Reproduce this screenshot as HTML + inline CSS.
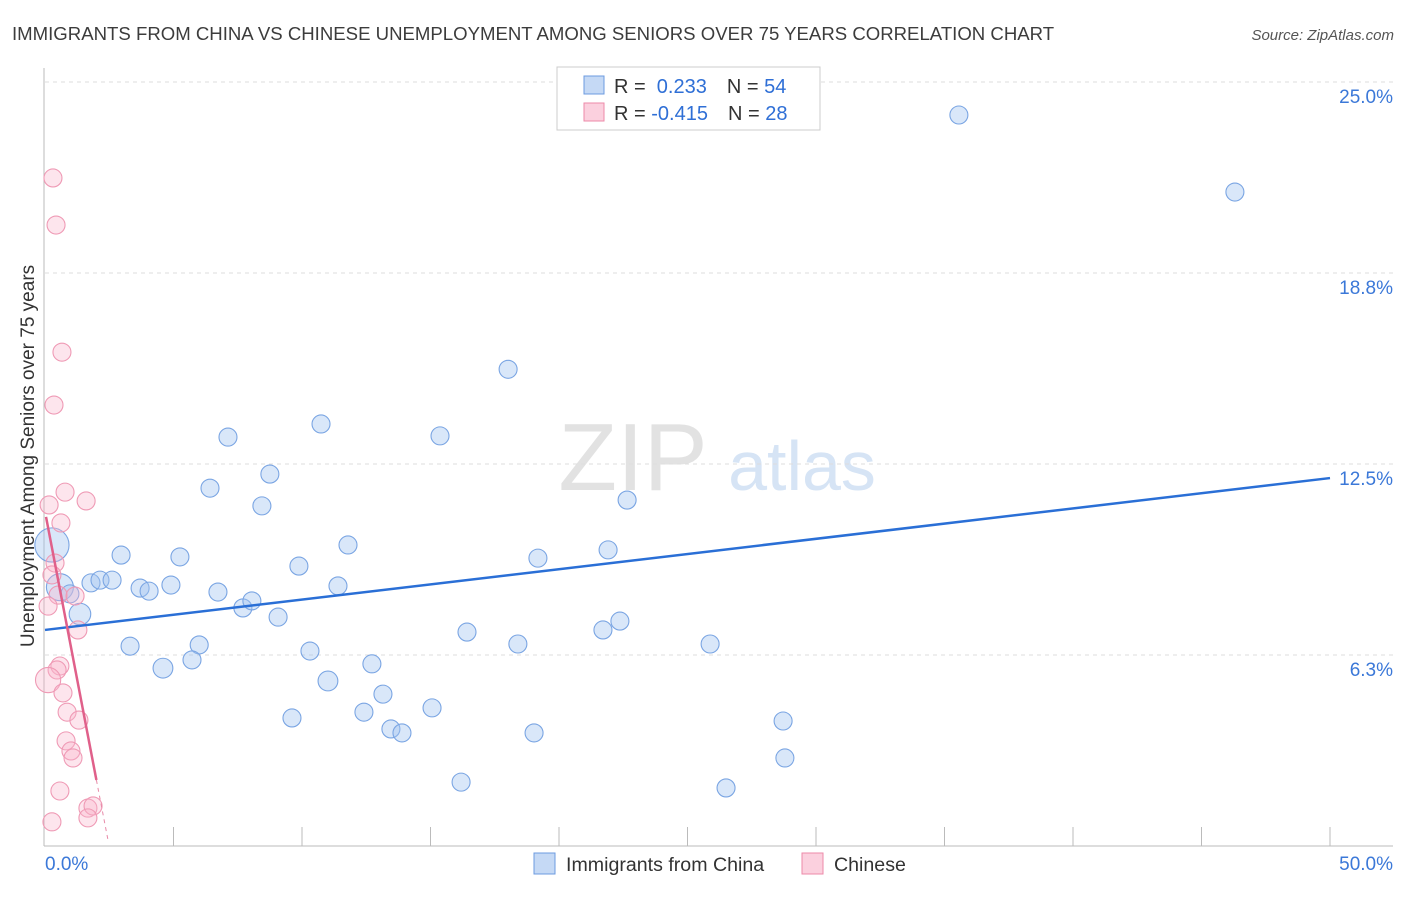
<!DOCTYPE html>
<html><head><meta charset="utf-8"><style>
body{margin:0;background:#fff;font-family:"Liberation Sans",sans-serif;}
svg text{font-family:"Liberation Sans",sans-serif;}
</style></head><body>
<svg id="chart" width="1406" height="892" xmlns="http://www.w3.org/2000/svg">
<text x="12" y="40" font-size="18.6" fill="#3c3c3c">IMMIGRANTS FROM CHINA VS CHINESE UNEMPLOYMENT AMONG SENIORS OVER 75 YEARS CORRELATION CHART</text>
<text x="1394" y="40" font-size="15" fill="#555" text-anchor="end" font-style="italic">Source: ZipAtlas.com</text>
<g>
<text x="633" y="490" font-size="96" fill="#e2e2e2" text-anchor="middle" font-family="Liberation Serif">ZIP</text>
<text x="802" y="490" font-size="70" fill="#d6e4f5" text-anchor="middle">atlas</text>
</g>
<g id="grid"></g>
<g id="axes"></g>
<g id="points"></g>
<g id="trends"></g>
<text transform="translate(34,456) rotate(-90)" font-size="19" fill="#333" text-anchor="middle">Unemployment Among Seniors over 75 years</text>
<g>
<rect x="557" y="67" width="263" height="63" fill="#fff" stroke="#ccc"/>
<rect x="584" y="76" width="20" height="18" fill="#c5d9f5" stroke="#6c9be0"/>
<rect x="584" y="103" width="20" height="18" fill="#fbd0de" stroke="#ec8aa8"/>
<text x="614" y="93" font-size="20" fill="#333">R = <tspan fill="#2f6fd6">&#160;0.233</tspan><tspan dx="20">N = </tspan><tspan fill="#2f6fd6">54</tspan></text>
<text x="614" y="120" font-size="20" fill="#333">R = <tspan fill="#2f6fd6">-0.415</tspan><tspan dx="20">N = </tspan><tspan fill="#2f6fd6">28</tspan></text>
</g>
<g>
<rect x="534" y="853" width="21" height="21" fill="#c5d9f5" stroke="#6c9be0"/>
<text x="566" y="871" font-size="19.6" fill="#333">Immigrants from China</text>
<rect x="802" y="853" width="21" height="21" fill="#fbd0de" stroke="#ec8aa8"/>
<text x="834" y="871" font-size="19.6" fill="#333">Chinese</text>
</g>
</svg>
<script>
const yTicks=[6.25,12.5,18.75,25];
const yTickLabels=["6.3%","12.5%","18.8%","25.0%"];
const xTickLabels=["0.0%","50.0%"];
const blueX=[35.56,46.30,18.02,7.12,10.74,15.37,6.42,8.75,8.44,22.65,0.27,2.96,5.25,11.79,19.18,21.91,9.88,0.58,1.79,2.14,2.61,3.70,4.05,4.90,6.73,11.40,0.97,1.36,7.70,8.05,9.07,3.31,6.0,16.42,18.40,21.71,22.37,25.88,4.59,5.72,10.31,12.72,11.01,13.15,9.61,12.41,15.06,13.46,13.89,19.03,16.19,26.50,28.72,28.79];
const blueY=[23.92,21.40,15.60,13.38,13.81,13.42,11.71,12.17,11.13,11.32,9.85,9.52,9.46,9.85,9.42,9.69,9.16,8.47,8.61,8.70,8.70,8.44,8.34,8.54,8.31,8.51,8.25,7.59,7.79,8.02,7.49,6.54,6.58,7.00,6.61,7.07,7.36,6.61,5.82,6.09,6.38,5.96,5.40,4.97,4.19,4.38,4.52,3.83,3.70,3.70,2.09,1.90,4.09,2.88];
const blueSize=[1,1,1,1,1,1,1,1,1,1,1.9,1,1,1,1,1,1,1.5,1,1,1,1,1,1,1,1,1,1.2,1,1,1,1,1,1,1,1,1,1,1.1,1,1,1,1.1,1,1,1,1,1,1,1,1,1,1,1];
const pinkX=[0.31,0.43,0.66,0.35,0.78,1.60,0.16,0.62,0.39,0.27,0.51,1.17,0.12,1.28,0.58,0.47,0.12,0.70,0.86,1.32,0.82,1.01,1.09,0.58,1.67,1.87,1.67,0.27];
const pinkY=[21.86,20.32,16.16,14.43,11.58,11.29,11.16,10.57,9.26,8.87,8.21,8.18,7.85,7.07,5.89,5.76,5.43,5.01,4.38,4.12,3.44,3.11,2.88,1.80,1.24,1.31,0.92,0.79];
const pinkSize=[1,1,1,1,1,1,1,1,1,1,1,1,1,1,1,1,1.4,1,1,1,1,1,1,1,1,1,1,1];
const blueTrend=[[0,7.07],[50,12.04]];
const pinkTrend=[[0.04,10.77],[2.0,2.16]];
const pinkTrendExt=[[2.0,2.16],[2.45,0.2]];
const NS="http://www.w3.org/2000/svg";
const X0=45,X1=1330,Y0=846,PY=191/6.25;
function sx(v){return X0+(X1-X0)*v/50;}
function sy(v){return Y0-v*PY;}
function mk(tag,attrs,parent){const e=document.createElementNS(NS,tag);for(const k in attrs)e.setAttribute(k,attrs[k]);document.getElementById(parent).appendChild(e);return e;}
yTicks.forEach((t,i)=>{
 const l=mk('line',{x1:X0,x2:1393,y1:sy(t),y2:sy(t),stroke:'#ddd','stroke-dasharray':'4,4'},'grid');
 
 
 const tx=mk('text',{x:1393,y:sy(t)+21,'font-size':19,fill:'#3b78d8','text-anchor':'end'},'grid');
 tx.textContent=yTickLabels[i];
 
 
});
const ya=mk('line',{x1:X0-1,x2:X0-1,y1:68,y2:846,stroke:'#bbb'},'axes');


const xa=mk('line',{x1:X0-1,x2:1393,y1:846,y2:846,stroke:'#bbb'},'axes');


for(let i=1;i<=10;i++){
 const t=mk('line',{x1:sx(i*5),x2:sx(i*5),y1:827,y2:846,stroke:'#bbb'},'axes');
 
 
}
[[0,'start',45],[50,'end',1393]].forEach((d,i)=>{
 const t=mk('text',{x:d[2],y:870,'font-size':19,fill:'#3b78d8','text-anchor':d[1]},'axes');
 t.textContent=xTickLabels[i];
 
 
});
blueX.forEach((v,i)=>{
 const c=mk('circle',{cx:sx(v),cy:sy(blueY[i]),r:9*blueSize[i],fill:'rgba(160,196,240,0.4)',stroke:'#7aa5e3','stroke-width':1.1},'points');
 
 
});
pinkX.forEach((v,i)=>{
 const c=mk('circle',{cx:sx(v),cy:sy(pinkY[i]),r:9*pinkSize[i],fill:'rgba(248,180,202,0.35)',stroke:'#ef9ab5','stroke-width':1.1},'points');
 
 
});
const bt=mk('line',{x1:sx(blueTrend[0][0]),y1:sy(blueTrend[0][1]),x2:sx(blueTrend[1][0]),y2:sy(blueTrend[1][1]),stroke:'#2a6fd6','stroke-width':2.5},'trends');


const pt=mk('line',{x1:sx(pinkTrend[0][0]),y1:sy(pinkTrend[0][1]),x2:sx(pinkTrend[1][0]),y2:sy(pinkTrend[1][1]),stroke:'#e0608a','stroke-width':2.5},'trends');


const pe=mk('line',{x1:sx(pinkTrendExt[0][0]),y1:sy(pinkTrendExt[0][1]),x2:sx(pinkTrendExt[1][0]),y2:sy(pinkTrendExt[1][1]),stroke:'#e88aa8','stroke-width':1,'stroke-dasharray':'4,4'},'trends');


</script>
</body></html>
